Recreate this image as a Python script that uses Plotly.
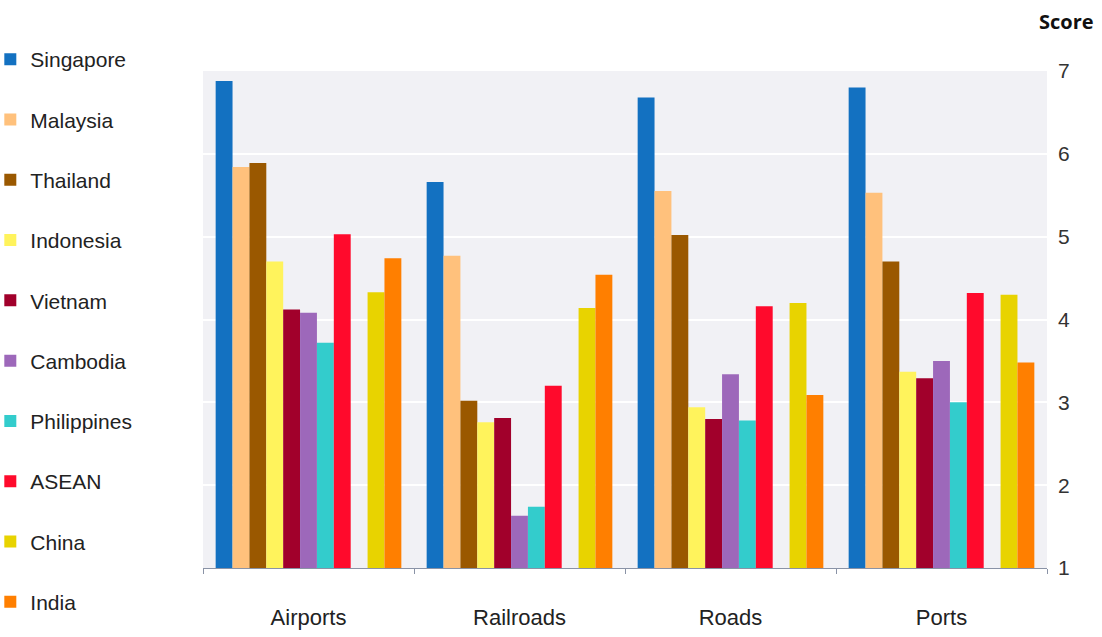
import plotly.graph_objects as go

categories = ["Airports", "Railroads", "Roads", "Ports"]
countries = ["Singapore", "Malaysia", "Thailand", "Indonesia", "Vietnam",
             "Cambodia", "Philippines", "ASEAN", "China", "India"]
singapore = [6.88, 5.66, 6.68, 6.80]
malaysia = [5.84, 4.77, 5.55, 5.53]
thailand = [5.89, 3.02, 5.02, 4.70]
indonesia = [4.70, 2.76, 2.94, 3.37]
vietnam = [4.12, 2.81, 2.80, 3.29]
cambodia = [4.08, 1.63, 3.34, 3.50]
philippines = [3.72, 1.74, 2.78, 3.00]
asean = [5.03, 3.20, 4.16, 4.32]
china = [4.33, 4.14, 4.20, 4.30]
india = [4.74, 4.54, 3.09, 3.48]
y_ticks = [1, 2, 3, 4, 5, 6, 7]

series = [singapore, malaysia, thailand, indonesia, vietnam,
          cambodia, philippines, asean, china, india]
colors = ["#1371C1", "#FFC17C", "#9A5800", "#FFF35C", "#A1002B",
          "#9D68BA", "#33CCCC", "#FF0A2C", "#E8D300", "#FF7F00"]

fig = go.Figure()
for i, (name, vals, col) in enumerate(zip(countries, series, colors)):
    fig.add_trace(go.Bar(name=name, x=categories, y=vals, marker_color=col,
                         marker_line_width=0, legendgroup=name))
    if name == "ASEAN":
        # empty spacer slot between ASEAN and China
        fig.add_trace(go.Bar(name="", x=categories, y=[None] * len(categories),
                             showlegend=False, hoverinfo="skip"))

fig.update_layout(
    width=1102, height=637,
    barmode="group", bargap=0.12, bargroupgap=0,
    paper_bgcolor="white", plot_bgcolor="#F1F1F5",
    margin=dict(l=203, r=55, t=71, b=69, autoexpand=False),
    font=dict(family="Liberation Sans, Arial, sans-serif", size=20, color="#222"),
    legend=dict(xref="paper", x=-0.252, xanchor="left",
                yref="container", y=0.9388, yanchor="top",
                font=dict(size=21, color="#222"), tracegroupgap=30,
                itemwidth=30, bgcolor="rgba(0,0,0,0)", maxheight=637),
    xaxis=dict(showline=True, linecolor="#8a93a6", linewidth=1,
               ticks="outside", tickson="boundaries", ticklen=5, tickcolor="#8a93a6",
               ticklabelstandoff=30, tickfont=dict(size=22, color="#222"),
               showgrid=False, automargin=False),
    yaxis=dict(side="right", range=[1, 7], tickvals=y_ticks, showgrid=True,
               gridcolor="white", gridwidth=2, zeroline=False, showline=False,
               ticks="", tickfont=dict(size=21, color="#333"), ticklabelstandoff=10,
               automargin=False),
    annotations=[dict(text="<b>Score</b>", xref="paper", yref="paper",
                      x=1.058, y=1.0986, xanchor="right", yanchor="middle",
                      showarrow=False,
                      font=dict(family="Open Sans, sans-serif", size=20, color="#111"))],
)

fig.write_html("out.html", config={"displayModeBar": False},
               post_script="document.body.style.margin='0';document.body.style.padding='0';")
